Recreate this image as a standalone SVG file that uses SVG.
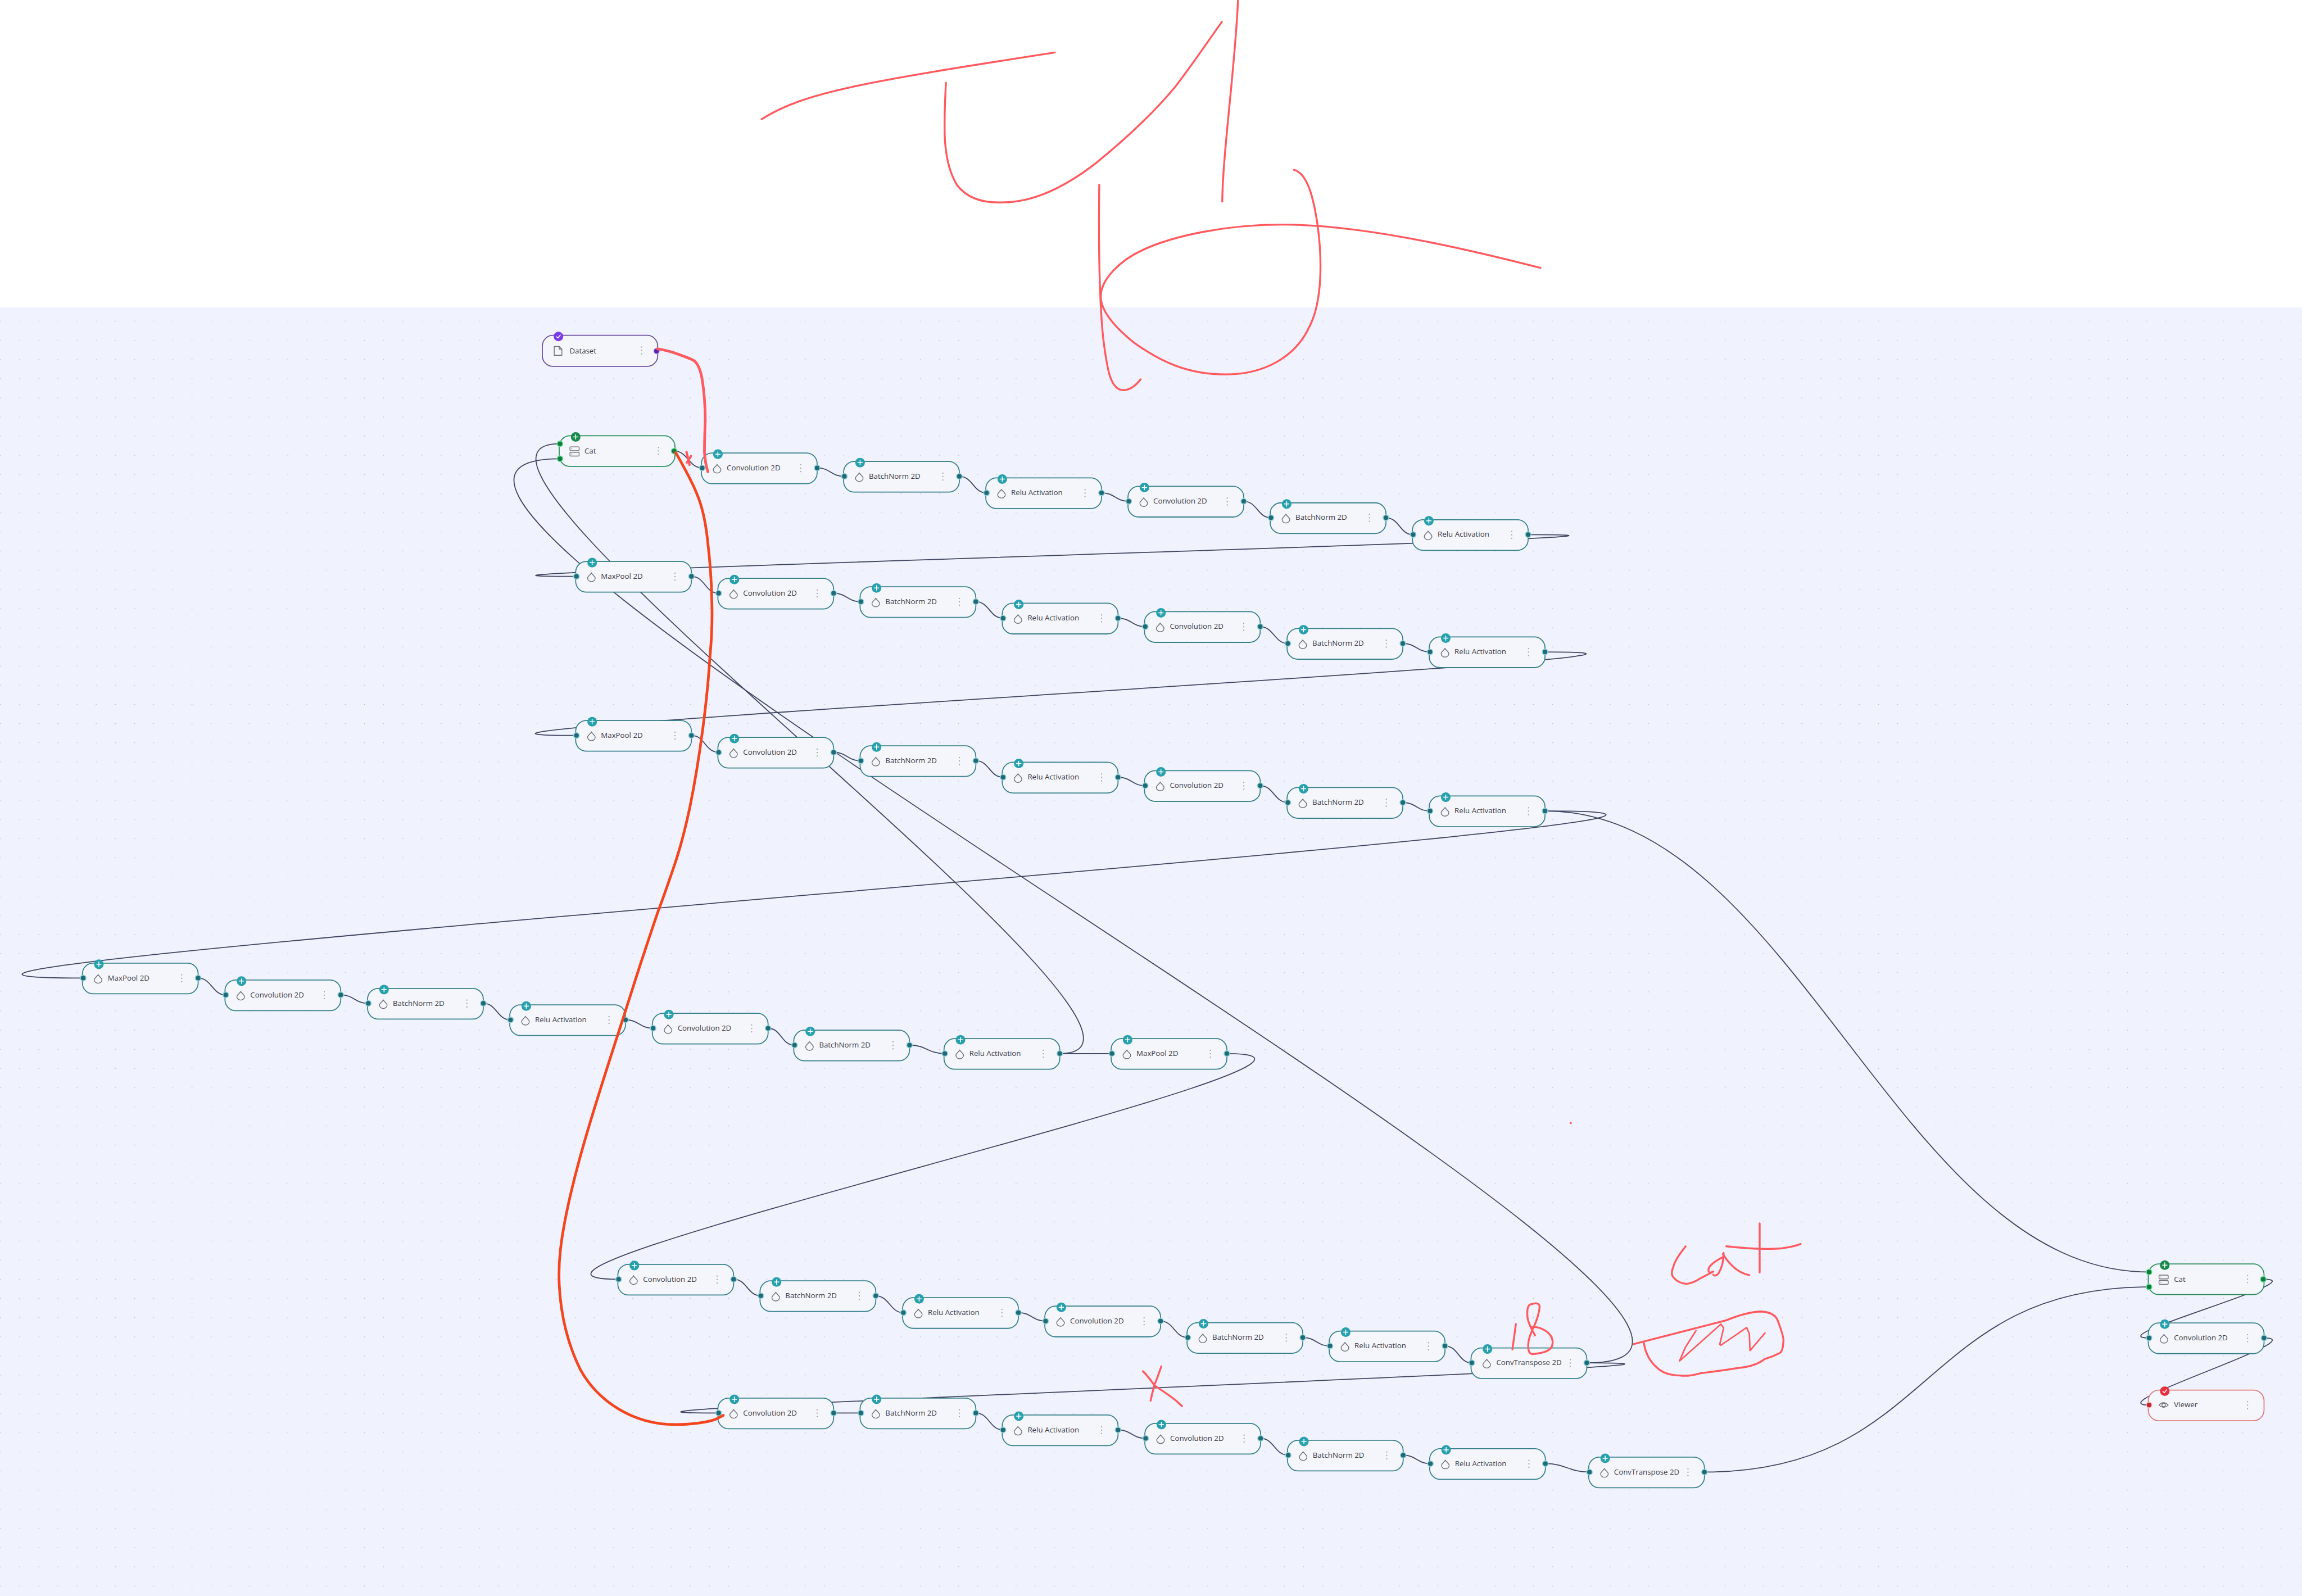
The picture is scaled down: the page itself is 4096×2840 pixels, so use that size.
<svg xmlns="http://www.w3.org/2000/svg" xmlns:xlink="http://www.w3.org/1999/xlink" width="4096" height="2840" viewBox="0 0 4096 2840">
<style>
.w{fill:none;stroke:#3f4560;stroke-width:2.6;stroke-linecap:round}
.card{fill:#f5f6fb;stroke-width:2.6}
.t{font-family:"Open Sans","Noto Sans",sans-serif;font-size:19.5px;fill:#3a3a44}
.ic{fill:none;stroke:#6b6b70;stroke-width:2}
.pen{fill:none;stroke:#ff5a5f;stroke-width:5;stroke-linecap:round;stroke-linejoin:round}
.k{fill:#a5a5a8}
.pl{fill:none;stroke:#fff;stroke-width:2.2;stroke-linecap:round;stroke-linejoin:round}
</style>
<defs>
<pattern id="dots" width="50" height="50" patternUnits="userSpaceOnUse" patternTransform="translate(-24,13)"><circle cx="25" cy="25" r="1.1" fill="#b0b3c0"/></pattern>
<g id="keb"><rect class="k" x="257.500" y="29" width="3" height="3"/><rect class="k" x="257.500" y="38" width="3" height="3"/><rect class="k" x="257.500" y="47" width="3" height="3"/></g>
<path id="drop" class="ic" d="M41 30C37 36 31 39 31 43.500A10 9 0 0 0 51 43.500C51 39 45 36 41 30Z"/>
<g id="teal">
<rect class="card" width="302" height="80" rx="28" stroke="#35808b"/>
<circle cx="2" cy="39" r="8.500" fill="#8fd0d6"/><circle cx="2" cy="39" r="6" fill="#1f6a78"/>
<circle cx="302" cy="39" r="8.500" fill="#8fd0d6"/><circle cx="302" cy="39" r="6" fill="#1f6a78"/>
<circle cx="43" cy="3" r="12.500" fill="#27a0ad"/><path class="pl" d="M37 3H49M43 -3V9"/>
<use href="#keb"/><use href="#drop"/>
</g>
<g id="green">
<rect class="card" width="302" height="80" rx="28" stroke="#2b8f5a"/>
<circle cx="2" cy="21" r="8.500" fill="#5fe08f"/><circle cx="2" cy="21" r="6" fill="#137a42"/>
<circle cx="2" cy="60" r="8.500" fill="#5fe08f"/><circle cx="2" cy="60" r="6" fill="#137a42"/>
<circle cx="300" cy="40" r="8.500" fill="#5fe08f"/><circle cx="300" cy="40" r="6" fill="#137a42"/>
<circle cx="43" cy="3" r="12.500" fill="#178a4c"/><path class="pl" d="M37 3H49M43 -3V9"/>
<use href="#keb"/>
<rect class="ic" x="28" y="29" width="24" height="10" rx="2"/><rect class="ic" x="28" y="43" width="24" height="10" rx="2"/><path class="ic" d="M32 34H34M32 48H34"/>
</g>
</defs>

<rect width="4096" height="2840" fill="#ffffff"/>
<g transform="scale(0.68198)">
<rect y="802" width="6006" height="3363" fill="#f0f3fd"/>
<rect y="802" width="6006" height="3363" fill="url(#dots)"/>

<g id="connectors">
<path class="w" d="M1759,1177C1795,1177 1797,1221 1832,1221"/>
<path class="w" d="M2132,1221C2167,1221 2168,1243 2203,1243"/>
<path class="w" d="M2503,1243C2538,1243 2539,1286 2574,1286"/>
<path class="w" d="M2874,1286C2909,1286 2910,1308 2945,1308"/>
<path class="w" d="M3245,1308C3280,1308 3281,1351 3316,1351"/>
<path class="w" d="M3616,1351C3651,1351 3652,1395 3687,1395"/>
<path class="w" d="M1804,1504C1839,1504 1840,1548 1875,1548"/>
<path class="w" d="M2175,1548C2210,1548 2211,1570 2246,1570"/>
<path class="w" d="M2546,1570C2581,1570 2582,1613 2617,1613"/>
<path class="w" d="M2917,1613C2952,1613 2953,1635 2988,1635"/>
<path class="w" d="M3288,1635C3323,1635 3325,1679 3360,1679"/>
<path class="w" d="M3660,1679C3695,1679 3696,1701 3731,1701"/>
<path class="w" d="M1804,1919C1839,1919 1840,1963 1875,1963"/>
<path class="w" d="M2175,1963C2210,1963 2211,1985 2246,1985"/>
<path class="w" d="M2546,1985C2581,1985 2582,2028 2617,2028"/>
<path class="w" d="M2917,2028C2952,2028 2953,2050 2988,2050"/>
<path class="w" d="M3288,2050C3323,2050 3325,2094 3360,2094"/>
<path class="w" d="M3660,2094C3695,2094 3696,2116 3731,2116"/>
<path class="w" d="M517,2552C552,2552 554,2596 589,2596"/>
<path class="w" d="M889,2596C924,2596 926,2618 961,2618"/>
<path class="w" d="M1261,2618C1296,2618 1297,2661 1332,2661"/>
<path class="w" d="M1632,2661C1667,2661 1669,2683 1704,2683"/>
<path class="w" d="M2004,2683C2039,2683 2038,2727 2073,2727"/>
<path class="w" d="M2373,2727C2418,2727 2420,2749 2465,2749"/>
<path class="w" d="M2765,2749H2901"/>
<path class="w" d="M1914,3338C1949,3338 1950,3381 1985,3381"/>
<path class="w" d="M2285,3381C2320,3381 2322,3425 2357,3425"/>
<path class="w" d="M2657,3425C2692,3425 2693,3447 2728,3447"/>
<path class="w" d="M3028,3447C3063,3447 3064,3490 3099,3490"/>
<path class="w" d="M3399,3490C3434,3490 3435,3512 3470,3512"/>
<path class="w" d="M3770,3512C3805,3512 3805,3556 3840,3556"/>
<path class="w" d="M2175,3687H2246"/>
<path class="w" d="M2546,3687C2581,3687 2582,3731 2617,3731"/>
<path class="w" d="M2917,3731C2952,3731 2954,3753 2989,3753"/>
<path class="w" d="M3289,3753C3324,3753 3326,3797 3361,3797"/>
<path class="w" d="M3661,3797C3696,3797 3697,3819 3732,3819"/>
<path class="w" d="M4032,3819C4085,3819 4094,3841 4147,3841"/>
<path class="w" d="M3987,1395C4796,1395 695,1504 1504,1504"/>
<path class="w" d="M4031,1701C4850,1701 685,1919 1504,1919"/>
<path class="w" d="M4031,2116C5254,2116 -1006,2552 217,2552"/>
<path class="w" d="M4031,2116C4681,2116 4955,3319 5607,3319"/>
<path class="w" d="M4447,3841C5047,3841 5007,3358 5607,3358"/>
<path class="w" d="M3201,2749C3740,2749 1075,3338 1614,3338"/>
<path class="w" d="M4140,3556C4888,3556 1127,3687 1875,3687"/>
<path class="w" d="M5907,3338C6045,3338 5469,3491 5607,3491"/>
<path class="w" d="M5907,3491C6045,3491 5469,3666 5607,3666"/>
<path class="w" d="M2765,2749C3219,2749 1006,1158 1460,1158"/>
<path class="w" d="M4140,3556C5035,3556 565,1197 1460,1197"/>
</g>

<g id="dataset" transform="translate(1415,875)">
<rect class="card" width="301" height="81" rx="28" stroke="#6b4fa0"/>
<circle cx="298" cy="41" r="8" fill="#a78be0"/><circle cx="298" cy="41" r="6" fill="#5b21b6"/>
<circle cx="42" cy="3" r="12.500" fill="#7c3aed"/><path class="pl" d="M37 3.500L41 7L47 -1"/>
<use href="#keb"/>
<path class="ic" d="M31 29H44L51 36V52H31ZM44 29V36H51"/>
<text class="t" x="71" y="47">Dataset</text>
</g>
<g id="cat1" transform="translate(1459,1137)"><use href="#green"/><text class="t" x="66" y="47">Cat</text></g>

<g id="r1c1" transform="translate(1830,1182)"><use href="#teal"/><text class="t" x="66" y="45">Convolution 2D</text></g>
<g id="r1b1" transform="translate(2201,1204)"><use href="#teal"/><text class="t" x="66" y="45">BatchNorm 2D</text></g>
<g id="r1r1" transform="translate(2572,1247)"><use href="#teal"/><text class="t" x="66" y="45">Relu Activation</text></g>
<g id="r1c2" transform="translate(2943,1269)"><use href="#teal"/><text class="t" x="66" y="45">Convolution 2D</text></g>
<g id="r1b2" transform="translate(3314,1312)"><use href="#teal"/><text class="t" x="66" y="45">BatchNorm 2D</text></g>
<g id="r1r2" transform="translate(3685,1356)"><use href="#teal"/><text class="t" x="66" y="45">Relu Activation</text></g>

<g id="r2m" transform="translate(1502,1465)"><use href="#teal"/><text class="t" x="66" y="45">MaxPool 2D</text></g>
<g id="r2c1" transform="translate(1873,1509)"><use href="#teal"/><text class="t" x="66" y="45">Convolution 2D</text></g>
<g id="r2b1" transform="translate(2244,1531)"><use href="#teal"/><text class="t" x="66" y="45">BatchNorm 2D</text></g>
<g id="r2r1" transform="translate(2615,1574)"><use href="#teal"/><text class="t" x="66" y="45">Relu Activation</text></g>
<g id="r2c2" transform="translate(2986,1596)"><use href="#teal"/><text class="t" x="66" y="45">Convolution 2D</text></g>
<g id="r2b2" transform="translate(3358,1640)"><use href="#teal"/><text class="t" x="66" y="45">BatchNorm 2D</text></g>
<g id="r2r2" transform="translate(3729,1662)"><use href="#teal"/><text class="t" x="66" y="45">Relu Activation</text></g>

<g id="r3m" transform="translate(1502,1880)"><use href="#teal"/><text class="t" x="66" y="45">MaxPool 2D</text></g>
<g id="r3c1" transform="translate(1873,1924)"><use href="#teal"/><text class="t" x="66" y="45">Convolution 2D</text></g>
<g id="r3b1" transform="translate(2244,1946)"><use href="#teal"/><text class="t" x="66" y="45">BatchNorm 2D</text></g>
<g id="r3r1" transform="translate(2615,1989)"><use href="#teal"/><text class="t" x="66" y="45">Relu Activation</text></g>
<g id="r3c2" transform="translate(2986,2011)"><use href="#teal"/><text class="t" x="66" y="45">Convolution 2D</text></g>
<g id="r3b2" transform="translate(3358,2055)"><use href="#teal"/><text class="t" x="66" y="45">BatchNorm 2D</text></g>
<g id="r3r2" transform="translate(3729,2077)"><use href="#teal"/><text class="t" x="66" y="45">Relu Activation</text></g>

<g id="r4m1" transform="translate(215,2513)"><use href="#teal"/><text class="t" x="66" y="45">MaxPool 2D</text></g>
<g id="r4c1" transform="translate(587,2557)"><use href="#teal"/><text class="t" x="66" y="45">Convolution 2D</text></g>
<g id="r4b1" transform="translate(959,2579)"><use href="#teal"/><text class="t" x="66" y="45">BatchNorm 2D</text></g>
<g id="r4r1" transform="translate(1330,2622)"><use href="#teal"/><text class="t" x="66" y="45">Relu Activation</text></g>
<g id="r4c2" transform="translate(1702,2644)"><use href="#teal"/><text class="t" x="66" y="45">Convolution 2D</text></g>
<g id="r4b2" transform="translate(2071,2688)"><use href="#teal"/><text class="t" x="66" y="45">BatchNorm 2D</text></g>
<g id="r4r2" transform="translate(2463,2710)"><use href="#teal"/><text class="t" x="66" y="45">Relu Activation</text></g>
<g id="r4m2" transform="translate(2899,2710)"><use href="#teal"/><text class="t" x="66" y="45">MaxPool 2D</text></g>

<g id="r5c1" transform="translate(1612,3299)"><use href="#teal"/><text class="t" x="66" y="45">Convolution 2D</text></g>
<g id="r5b1" transform="translate(1983,3342)"><use href="#teal"/><text class="t" x="66" y="45">BatchNorm 2D</text></g>
<g id="r5r1" transform="translate(2355,3386)"><use href="#teal"/><text class="t" x="66" y="45">Relu Activation</text></g>
<g id="r5c2" transform="translate(2726,3408)"><use href="#teal"/><text class="t" x="66" y="45">Convolution 2D</text></g>
<g id="r5b2" transform="translate(3097,3451)"><use href="#teal"/><text class="t" x="66" y="45">BatchNorm 2D</text></g>
<g id="r5r2" transform="translate(3468,3473)"><use href="#teal"/><text class="t" x="66" y="45">Relu Activation</text></g>
<g id="r5t" transform="translate(3838,3517)"><use href="#teal"/><text class="t" x="66" y="45">ConvTranspose 2D</text></g>

<g id="r6c1" transform="translate(1873,3648)"><use href="#teal"/><text class="t" x="66" y="45">Convolution 2D</text></g>
<g id="r6b1" transform="translate(2244,3648)"><use href="#teal"/><text class="t" x="66" y="45">BatchNorm 2D</text></g>
<g id="r6r1" transform="translate(2615,3692)"><use href="#teal"/><text class="t" x="66" y="45">Relu Activation</text></g>
<g id="r6c2" transform="translate(2987,3714)"><use href="#teal"/><text class="t" x="66" y="45">Convolution 2D</text></g>
<g id="r6b2" transform="translate(3359,3758)"><use href="#teal"/><text class="t" x="66" y="45">BatchNorm 2D</text></g>
<g id="r6r2" transform="translate(3730,3780)"><use href="#teal"/><text class="t" x="66" y="45">Relu Activation</text></g>
<g id="r6t" transform="translate(4145,3802)"><use href="#teal"/><text class="t" x="66" y="45">ConvTranspose 2D</text></g>

<g id="cat2" transform="translate(5605,3298)"><use href="#green"/><text class="t" x="67" y="46">Cat</text></g>
<g id="conv-end" transform="translate(5605,3452)"><use href="#teal"/><text class="t" x="67" y="45">Convolution 2D</text></g>
<g id="viewer" transform="translate(5605,3627)">
<rect class="card" width="302" height="80" rx="28" stroke="#e57878"/>
<circle cx="2" cy="39" r="8" fill="#f5b5b8"/><circle cx="2" cy="39" r="6" fill="#c9252f"/>
<circle cx="43" cy="3" r="12.500" fill="#e8303f"/><path class="pl" d="M38 3.500L42 7L48 -1"/>
<use href="#keb"/>
<path class="ic" d="M28 39Q40 27 52 39Q40 51 28 39Z"/><circle class="ic" cx="40" cy="39" r="4.500"/>
<text class="t" x="67" y="45">Viewer</text>
</g>

<g id="annotations">
<path class="pen" d="M1987,311C2100,240 2250,215 2752,137"/>
<path class="pen" d="M2468,216C2462,330 2458,420 2497,483C2525,520 2570,530 2616,528C2690,528 2770,495 2860,425C2940,360 3005,300 3065,228C3110,170 3150,110 3188,57"/>
<path class="pen" d="M3230,2C3222,180 3190,400 3189,526"/>
<path class="pen" d="M2868,482C2866,640 2868,780 2878,880C2888,960 2896,1018 2931,1018C2945,1018 2960,1010 2976,990"/>
<path class="pen" d="M3376,443C3412,452 3428,520 3438,590C3450,680 3450,790 3415,855C3380,930 3300,977 3198,977C3100,977 3030,945 2960,895C2910,855 2870,810 2872,770C2874,730 2920,680 2980,653C3060,615 3200,586 3345,586C3540,586 3790,640 4019,699"/>
<path class="pen" style="stroke-width:7" d="M1715,910Q1745,915 1769,924Q1800,935 1809,940Q1825,950 1832,990Q1840,1040 1840,1097Q1838,1150 1838,1180Q1840,1210 1847,1231"/>
<path class="pen" style="stroke-width:6" d="M1791,1179L1799,1213M1803,1190L1792,1207"/>
<path class="pen" style="stroke:#f4451e;stroke-width:7" d="M1763,1181Q1803,1251 1818,1288Q1838,1335 1846,1409Q1856,1493 1857,1563Q1860,1633 1852,1717Q1847,1801 1833,1906Q1819,2012 1800,2106Q1780,2200 1757,2265Q1735,2330 1717,2378Q1700,2427 1663,2540Q1645,2597 1627,2653C1560,2860 1480,3100 1462,3263C1452,3350 1462,3470 1515,3575C1560,3655 1650,3717 1762,3717C1810,3717 1850,3710 1870,3702L1887,3693"/>
<path class="pen" d="M4398,3252Q4370,3287 4366,3305Q4358,3325 4366,3333Q4378,3348 4400,3350Q4418,3348 4437,3335L4470,3318Q4455,3325 4458,3310Q4462,3297 4497,3279L4497,3269Q4497,3300 4484,3322Q4475,3332 4470,3326"/>
<path class="pen" d="M4495,3272Q4525,3320 4564,3327"/>
<path class="pen" d="M4591,3192V3320M4504,3252Q4600,3262 4650,3257Q4680,3253 4698,3246"/>
<path class="pen" d="M3955,3455L3946,3521"/>
<path class="pen" d="M4005,3484Q3985,3450 3985,3433Q3983,3405 3995,3403Q4017,3396 4017,3411Q4015,3430 4005,3455Q3992,3480 3988,3500Q3984,3532 3998,3533Q4045,3530 4050,3510Q4055,3490 4035,3474Q4015,3460 3995,3463"/>
<path class="pen" d="M4263,3507L4504,3445Q4560,3422 4597,3422Q4630,3425 4638,3445Q4655,3490 4653,3500Q4652,3525 4644,3530Q4625,3540 4604,3546Q4580,3565 4537,3569Q4480,3578 4437,3583Q4405,3592 4383,3589Q4345,3588 4325,3570Q4295,3545 4289,3504"/>
<path class="pen" style="stroke-width:4" d="M4425,3472L4397,3516L4382,3551L4490,3455L4497,3465L4487,3508L4490,3510L4557,3464L4564,3480L4566,3524L4605,3478"/>
<path class="pen" d="M3030,3565Q3018,3600 3012,3613Q3005,3640 3002,3655"/>
<path class="pen" d="M2982,3578Q2995,3590 3012,3615Q3035,3630 3053,3643Q3070,3655 3084,3669"/>
<circle cx="4098" cy="2930" r="3" fill="#ff5a5f"/>
</g>
</g>
</svg>
